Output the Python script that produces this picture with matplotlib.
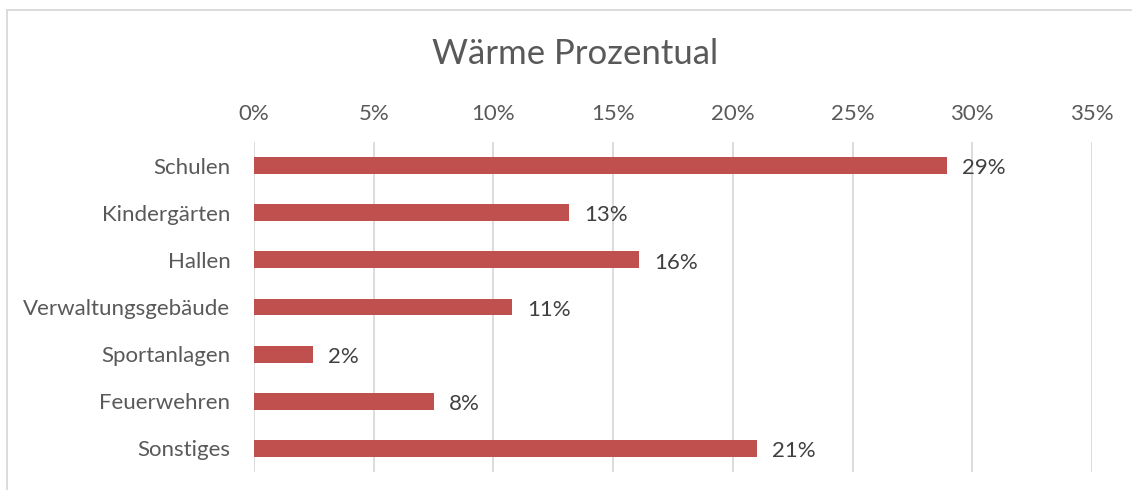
import matplotlib.pyplot as plt
from matplotlib.patches import Rectangle
from matplotlib.ticker import FuncFormatter

# Data
categories = ["Schulen", "Kindergärten", "Hallen", "Verwaltungsgebäude",
              "Sportanlagen", "Feuerwehren", "Sonstiges"]
values = [28.95, 13.16, 16.08, 10.78, 2.46, 7.52, 21.0]
x_ticks = [0, 5, 10, 15, 20, 25, 30, 35]

plt.rcParams['font.family'] = ['Lato', 'DejaVu Sans']
text_color = "#595959"
bar_color = "#C0504D"
grid_color = "#D9D9D9"

fig = plt.figure(figsize=(11.32, 4.9), dpi=100)
ax = fig.add_axes([254 / 1132, 1 - 472 / 490, (1092 - 254) / 1132, (472 - 142) / 490])

y = list(range(len(categories)))
bars = ax.barh(y, values, height=0.36, color=bar_color, zorder=3)
ax.set_ylim(len(categories) - 0.5, -0.5)
ax.set_yticks(y)
ax.set_yticklabels(categories)

ax.set_xlim(0, 35)
ax.set_xticks(x_ticks)
ax.xaxis.set_major_formatter(FuncFormatter(lambda v, p: f"{v:.0f}%"))
ax.xaxis.tick_top()
ax.grid(axis="x", color=grid_color, linewidth=1.3, zorder=0)
ax.tick_params(axis="both", length=0, labelsize=16, colors=text_color)
ax.tick_params(axis="x", pad=13)
ax.tick_params(axis="y", pad=17)
for s in ax.spines.values():
    s.set_visible(False)

for b, v in zip(bars, values):
    ax.annotate(f"{round(v):.0f}%", (b.get_width(), b.get_y() + b.get_height() / 2),
                xytext=(11, -2), textcoords="offset points", va="center", ha="left",
                fontsize=16, color="#404040")

fig.text(575 / 1132, 1 - 54 / 490, "Wärme Prozentual", ha="center", va="center",
         fontsize=25, color=text_color)

# outer chart border
fig.patches.append(Rectangle((7 / 1132, -0.1), 1.2, 1 - 10 / 490 + 0.1,
                             transform=fig.transFigure, fill=False,
                             edgecolor=grid_color, linewidth=1.3))

fig.savefig("out.png", dpi=100)
